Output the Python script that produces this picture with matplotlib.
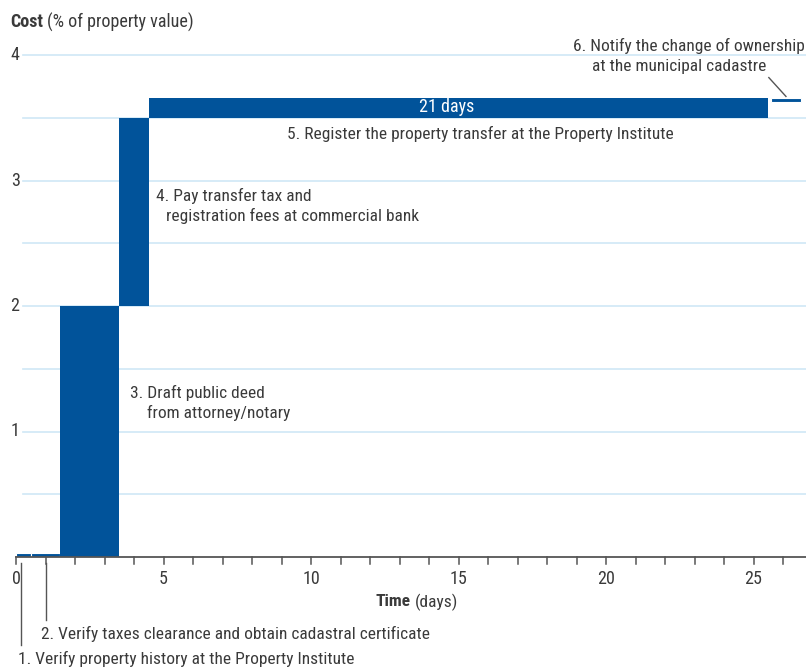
import numpy as np
import matplotlib.pyplot as plt

plt.rcParams['font.family'] = ['Roboto Condensed', 'DejaVu Sans']

# ---------------------------------------------------------------------
# Data
# ---------------------------------------------------------------------
procedures = [
    "1. Verify property history at the Property Institute",
    "2. Verify taxes clearance and obtain cadastral certificate",
    "3. Draft public deed",
    "4. Pay transfer tax and",
    "5. Register the property transfer at the Property Institute",
    "6. Notify the change of ownership",
]
second_lines = ["", "", "from attorney/notary",
                "registration fees at commercial bank", "", "at the municipal cadastre"]
start_day = [0, 0.5, 1.5, 3.5, 4.5, 25.6]
duration = [0.5, 1, 2, 1, 21, 1]
cost = [0, 0, 2, 1.5, 0.16, 0]

x_ticks = list(range(0, 27))
x_tick_labels = ["0", "5", "10", "15", "20", "25"]
y_tick_labels = ["1", "2", "3", "4"]

BAR = "#01539a"
GRID = "#cfe7f6"
TXT = "#3a3a3a"
AX = "#555555"
FS = 12.5

fig = plt.figure(figsize=(8.06, 6.69), dpi=100)
W, H = 806, 669
x0_px, y0_px = 16, 557
px_day, px_unit = 29.5, 125.5
xmax = (W - x0_px) / px_day
ymax = 4.2
ax = fig.add_axes([x0_px / W, (H - y0_px) / H,
                   1 - x0_px / W, ymax * px_unit / H])
ax.set_xlim(0, xmax)
ax.set_ylim(0, ymax)
ax.axis("off")

# gridlines
for yv in np.arange(0.5, 4.01, 0.5):
    ax.plot([0.24, xmax], [yv, yv], color=GRID, lw=1.2, zorder=0)

# bars
thin = 0.032
cum = 0.0
for s, d, c in zip(start_day, duration, cost):
    if c > 0:
        ax.bar(s, c, width=d, bottom=cum, align="edge", color=BAR,
               linewidth=0, zorder=2)
        cum += c
    else:
        ax.bar(s, thin, width=d, bottom=max(cum - thin, 0), align="edge",
               color=BAR, edgecolor="white", linewidth=0.8, zorder=2)

# x axis
ax.plot([0, xmax], [0, 0], color=AX, lw=1.3, zorder=3, clip_on=False)
for t in x_ticks:
    ax.plot([t, t], [0, -0.055], color=AX, lw=1.1, clip_on=False)
for lab in x_tick_labels:
    ax.text(int(lab), -0.1, lab, ha="center", va="top", fontsize=13,
            color=TXT)
for lab in y_tick_labels:
    ax.text(-0.03, int(lab), lab, ha="center", va="center", fontsize=13,
            color=TXT, clip_on=False)


def bold_title(x_px, y_px, bold, rest, size):
    t = fig.text(x_px / W, 1 - y_px / H, bold, fontweight="bold", fontsize=size,
                 ha="left", va="center", color=TXT)
    fig.canvas.draw()
    bb = t.get_window_extent()
    fig.text((bb.x1 + 4) / W, 1 - y_px / H, rest, fontsize=size,
             ha="left", va="center", color=TXT)


bold_title(10, 22, "Cost", "(% of property value)", 13)
bold_title(376, 602, "Time", "(days)", 12.5)

# labels
kw = dict(fontsize=FS, color=TXT, va="center", ha="left", clip_on=False)
ax.text(0.07, -0.81, procedures[0], **kw)
ax.text(0.85, -0.61, procedures[1], **kw)
ax.text(3.86, 1.31, procedures[2], **kw)
ax.text(4.44, 1.15, second_lines[2], **kw)
ax.text(4.75, 2.88, procedures[3], **kw)
ax.text(5.08, 2.72, second_lines[3], **kw)
ax.text(9.19, 3.37, procedures[4], **kw)
ax.text(18.88, 4.07, procedures[5], **kw)
ax.text(19.53, 3.91, second_lines[5], **kw)
ax.text(14.6, 3.585, f"{duration[4]} days", fontsize=13, color="white",
        ha="center", va="center", zorder=4)

# leader lines
ax.plot([0.18, 0.18], [-0.05, -0.70], color=AX, lw=1, clip_on=False)
ax.plot([1.0, 1.0], [-0.05, -0.50], color=AX, lw=1, clip_on=False)
ax.plot([25.52, 26.1], [3.82, 3.67], color=AX, lw=1, clip_on=False)

fig.savefig("out.png", dpi=100)
